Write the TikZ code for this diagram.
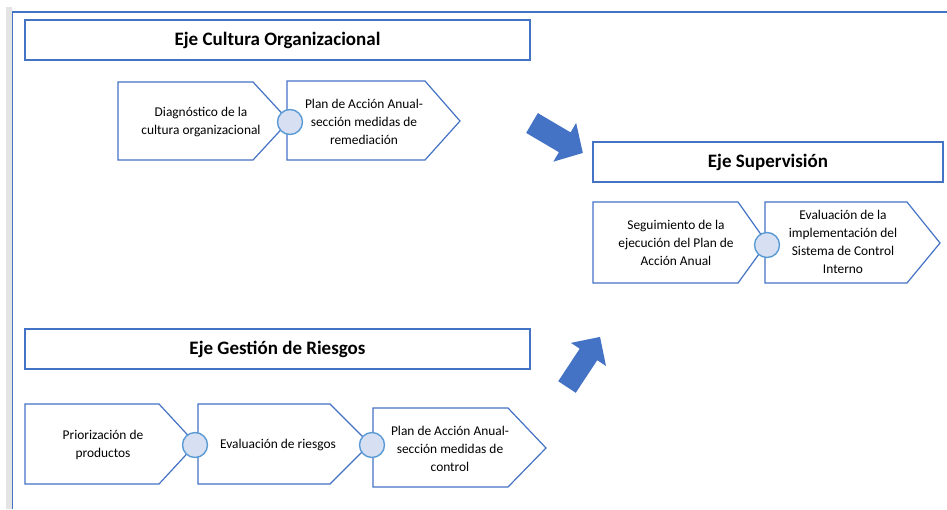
\documentclass[tikz,border=0pt]{standalone}
\usepackage{fontspec}
\setmainfont{Carlito}
\definecolor{frameblue}{HTML}{4472C4}
\definecolor{dotline}{HTML}{5B9BD5}
\definecolor{dotfill}{HTML}{D6E0F2}
\definecolor{strip}{HTML}{E4E4E4}
\begin{document}
\begin{tikzpicture}[x=1pt,y=-1pt,
  titlebox/.style={draw=frameblue,line width=1.6pt,fill=white,inner sep=0pt,
    font=\fontsize{19}{23}\selectfont\bfseries},
  chev/.style={draw=frameblue,line width=1.2pt,fill=white,line join=miter},
  txt/.style={align=center,inner sep=0pt,font=\fontsize{13.4}{18}\selectfont},
  dot/.style={circle,draw=dotline,fill=dotfill,line width=1.4pt,inner sep=0pt,minimum size=25pt},
  bigarrow/.style={fill=frameblue,draw=none}]
\useasboundingbox (0,0) rectangle (947,509);
% page edge and frame
\fill[strip] (6,7) rectangle (11.5,509);
\draw[frameblue,line width=1.4pt] (12.5,509) -- (12.5,12) -- (947,12);

% ---- Eje Cultura Organizacional ----
\node[titlebox,minimum width=505pt,minimum height=40pt] (t1) at (277.5,40) {Eje Cultura Organizacional};
\draw[chev] (118,82) -- (253,82) -- (289,121) -- (253,160) -- (118,160) -- cycle;
\node[txt] (a1) at (201,122) {Diagnóstico de la\\cultura organizacional};
\draw[chev] (287,81) -- (425,81) -- (460,121) -- (425,160) -- (287,160) -- cycle;
\node[txt] (a2) at (364,122) {Plan de Acción Anual-\\sección medidas de\\remediación};
\node[dot] (d1) at (290,122) {};

% ---- Eje Supervisión ----
\node[titlebox,minimum width=350pt,minimum height=40pt] (t2) at (768,162) {Eje Supervisión};
\draw[chev] (593,202) -- (738,202) -- (767,243) -- (738,283) -- (593,283) -- cycle;
\node[txt] (s1) at (676,243) {Seguimiento de la\\ejecución del Plan de\\Acción Anual};
\draw[chev] (765,202) -- (907,202) -- (940,243) -- (907,283) -- (765,283) -- cycle;
\node[txt] (s2) at (843,242) {Evaluación de la\\implementación del\\Sistema de Control\\Interno};
\node[dot] (d2) at (767,245) {};

% ---- Eje Gestión de Riesgos ----
\node[titlebox,minimum width=505pt,minimum height=40pt] (t3) at (277.5,349) {Eje Gestión de Riesgos};
\draw[chev] (25,404) -- (159,404) -- (196,444) -- (159,484) -- (25,484) -- cycle;
\node[txt] (g1) at (103,445) {Priorización de\\productos};
\draw[chev] (198,404) -- (330,404) -- (370,444) -- (330,484) -- (198,484) -- cycle;
\node[txt] (g2) at (278,445) {Evaluación de riesgos};
\draw[chev] (373,408) -- (508,408) -- (546,448) -- (508,487) -- (373,487) -- cycle;
\node[txt] (g3) at (450,449) {Plan de Acción Anual-\\sección medidas de\\control};
\node[dot] (d3) at (195,445) {};
\node[dot] (d4) at (372,445) {};

% ---- block arrows towards supervision ----
\fill[bigarrow,shift={(532,123)},rotate=-30.5]
  (0,-11.5) -- (38,-11.5) -- (38,-22.5) -- (59,0) -- (38,22.5) -- (38,11.5) -- (0,11.5) -- cycle;
\fill[bigarrow,shift={(567,387)},rotate=56.6]
  (0,-10.5) -- (39,-10.5) -- (39,-21) -- (60,0) -- (39,21) -- (39,10.5) -- (0,10.5) -- cycle;
\end{tikzpicture}
\end{document}
